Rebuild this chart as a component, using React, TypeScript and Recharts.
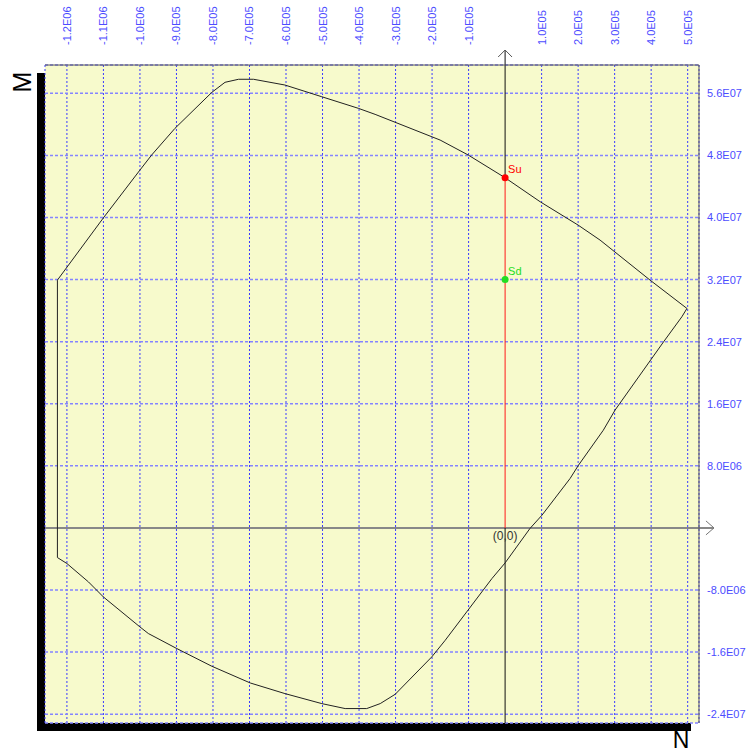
import { ScatterChart, Scatter, XAxis, YAxis, CartesianGrid, ReferenceLine } from 'recharts';

// interaction curve N (axial) / M (moment), traced clockwise
const curveN = [
  -1226000, -1100000, -1000000, -968000, -904000, -803000, -767000, -730000, -689000, -603000,
  -502000, -402000, -356000, -178000, -101000, 0, 96000, 200000, 260000, 397000,
  498000, 484000, 434000, 301000, 269000, 201000, 178000, 101000, 68000, 0,
  -36000, -164000, -201000, -301000, -342000, -379000, -438000, -502000, -603000, -698000,
  -803000, -899000, -977000, -1000000, -1100000, -1141000, -1200000, -1226000, -1226000,
];
const curveM = [
  31930000, 39960000, 46110000, 48050000, 51490000, 56130000, 57420000, 57810000, 57810000, 57070000,
  55560000, 54070000, 53290000, 49980000, 48050000, 45120000, 42030000, 39020000, 37090000, 31930000,
  28280000, 27200000, 23980000, 15170000, 12590000, 8080000, 6370000, 1640000, -80000, -4510000,
  -6520000, -14480000, -16630000, -21440000, -22640000, -23280000, -23280000, -22640000, -21350000, -19980000,
  -17830000, -15550000, -13610000, -12760000, -8900000, -6960000, -4590000, -3820000, 31930000,
];

const nTicks = [
  -1200000, -1100000, -1000000, -900000, -800000, -700000, -600000, -500000, -400000, -300000,
  -200000, -100000, 100000, 200000, 300000, 400000, 500000,
];
const mTicks = [-24000000, -16000000, -8000000, 8000000, 16000000, 24000000, 32000000, 40000000, 48000000, 56000000];

const nDomain = [-1260000, 531000];
const mDomain = [-25140000, 59650000];

const suPoint = [{ name: 'Su', n: 0, m: 45120000 }];
const sdPoint = [{ name: 'Sd', n: 0, m: 32000000 }];
const originPoint = [{ name: '(0,0)', n: 0, m: 0 }];

const curveData = curveN.map((n, i) => ({ n, m: curveM[i] }));

const FONT = '"Liberation Sans", Arial, sans-serif';
const TICK_BLUE = '#4c4cff';

function sci(v: number) {
  const e = Math.floor(Math.log10(Math.abs(v)));
  const mant = (v / Math.pow(10, e)).toFixed(1);
  return `${mant}E${String(e).padStart(2, '0')}`;
}

const TopTick = (props: any) => {
  const { x, payload } = props;
  const tx = x + 4;
  return (
    <text x={tx} y={45} transform={`rotate(-90 ${tx} 45)`} fill={TICK_BLUE} fontSize={11} fontFamily={FONT} textAnchor="start">
      {sci(payload.value)}
    </text>
  );
};

const RightTick = (props: any) => {
  const { y, payload } = props;
  return (
    <text x={707} y={y + 4} fill={TICK_BLUE} fontSize={11} fontFamily={FONT} textAnchor="start">
      {sci(payload.value)}
    </text>
  );
};

const pointShape = (color: string) => (p: any) => (
  <g>
    <circle cx={p.cx} cy={p.cy} r={3.5} fill={color} />
    <text x={p.cx + 3} y={p.cy - 5} fill={color} fontSize={11} fontFamily={FONT}>
      {p.payload.name}
    </text>
  </g>
);

const originShape = (p: any) => (
  <text x={p.cx} y={p.cy + 12} fill="#333" fontSize={12} fontFamily={FONT} textAnchor="middle">
    {p.payload.name}
  </text>
);

export default function App() {
  return (
    <div style={{ position: 'absolute', left: 0, top: 0, width: 747, height: 755, overflow: 'hidden' }}>
      {/* drop shadow behind the plot */}
      <div style={{ position: 'absolute', left: 37, top: 73, width: 654, height: 658, background: '#000' }} />
      <div style={{ position: 'absolute', left: 0, top: 0 }}>
        <ScatterChart width={747} height={755} margin={{ top: 0, right: 0, bottom: 32, left: 45 }}>
          <CartesianGrid
            horizontal={false}
            stroke="#3a3aff"
            strokeDasharray="2 2"
            fill="#f7facc"
            fillOpacity={1}
          />
          <CartesianGrid vertical={false} stroke="#8484ff" strokeWidth={1.5} strokeDasharray="3 2" />
          <XAxis
            type="number"
            dataKey="n"
            orientation="top"
            domain={nDomain}
            ticks={nTicks}
            allowDataOverflow
            interval={0}
            height={65}
            tickLine={false}
            axisLine={{ stroke: '#555' }}
            tick={<TopTick />}
          />
          <YAxis
            type="number"
            dataKey="m"
            orientation="right"
            domain={mDomain}
            ticks={mTicks}
            allowDataOverflow
            interval={0}
            width={48}
            tickLine={false}
            axisLine={{ stroke: '#555' }}
            tick={<RightTick />}
          />
          {/* N axis with arrow */}
          <ReferenceLine segment={[{ x: nDomain[0], y: 0 }, { x: 572000, y: 0 }]} stroke="#888" strokeWidth={2} ifOverflow="visible" />
          <ReferenceLine segment={[{ x: 550000, y: 900000 }, { x: 572000, y: 0 }]} stroke="#777" ifOverflow="visible" />
          <ReferenceLine segment={[{ x: 550000, y: -900000 }, { x: 572000, y: 0 }]} stroke="#777" ifOverflow="visible" />
          {/* M axis with arrow; red between Su and origin */}
          <ReferenceLine segment={[{ x: 0, y: mDomain[0] }, { x: 0, y: 0 }]} stroke="#111" ifOverflow="visible" />
          <ReferenceLine segment={[{ x: 0, y: suPoint[0].m }, { x: 0, y: 61580000 }]} stroke="#111" ifOverflow="visible" />
          <ReferenceLine segment={[{ x: -19000, y: 60680000 }, { x: 0, y: 61580000 }]} stroke="#555" ifOverflow="visible" />
          <ReferenceLine segment={[{ x: 19000, y: 60680000 }, { x: 0, y: 61580000 }]} stroke="#555" ifOverflow="visible" />
          <ReferenceLine segment={[{ x: 0, y: suPoint[0].m }, { x: 0, y: 0 }]} stroke="#ff1a1a" ifOverflow="visible" />
          <Scatter
            data={curveData}
            line={{ stroke: '#222', strokeWidth: 1 }}
            lineType="joint"
            shape={() => <g />}
            isAnimationActive={false}
          />
          <Scatter data={suPoint} shape={pointShape('#ff0000')} isAnimationActive={false} />
          <Scatter data={sdPoint} shape={pointShape('#22dd22')} isAnimationActive={false} />
          <Scatter data={originPoint} shape={originShape} isAnimationActive={false} />
        </ScatterChart>
      </div>
      <div
        style={{
          position: 'absolute',
          left: 22,
          top: 82,
          transform: 'translate(-50%, -50%) rotate(-90deg)',
          fontFamily: FONT,
          fontSize: 25,
          lineHeight: 1,
          color: '#000',
        }}
      >
        M
      </div>
      <div
        style={{
          position: 'absolute',
          left: 681,
          top: 732,
          transform: 'translateX(-50%)',
          fontFamily: FONT,
          fontSize: 23,
          lineHeight: 0.72,
          color: '#000',
        }}
      >
        N
      </div>
    </div>
  );
}
